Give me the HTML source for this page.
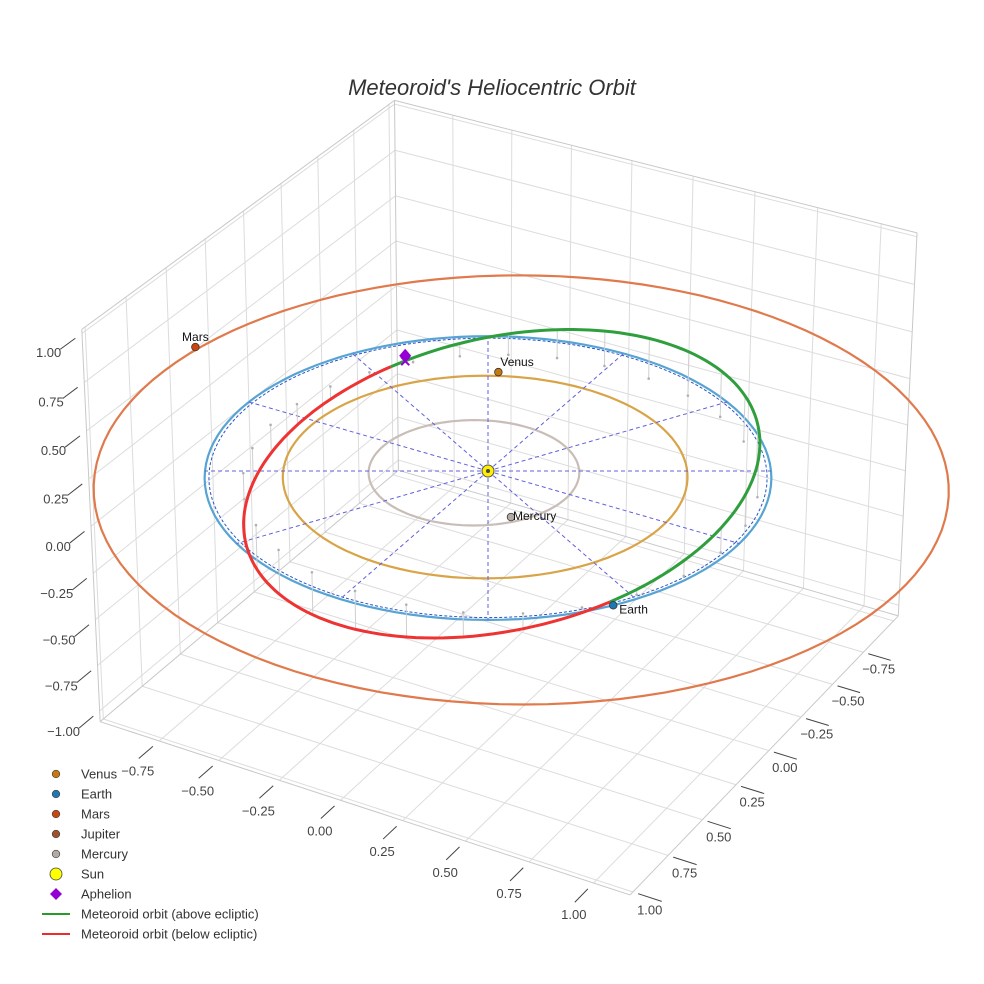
<!DOCTYPE html>
<html><head><meta charset="utf-8"><style>
html,body{margin:0;padding:0;background:#fff;}
svg{display:block;font-family:"Liberation Sans",sans-serif;}
</style></head><body>
<svg id="chart" width="984" height="984" viewBox="0 0 984 984" xmlns="http://www.w3.org/2000/svg">
<rect x="0" y="0" width="984" height="984" fill="#fff"/>
<text x="492" y="95" text-anchor="middle" font-size="22" font-style="italic" fill="#333">Meteoroid's Heliocentric Orbit</text>
<g id="scene"></g>
<g id="legend"></g>
</svg>
<script>
// ---- data ----
const xTicks = [-0.75,-0.5,-0.25,0,0.25,0.5,0.75,1.0];
const yTicks = [-0.75,-0.5,-0.25,0,0.25,0.5,0.75,1.0];
const zTicks = [-1.0,-0.75,-0.5,-0.25,0,0.25,0.5,0.75,1.0];
const gridVals = [-1.0,-0.75,-0.5,-0.25,0,0.25,0.5,0.75,1.0];
const xRange = [-1.0, 1.14];
const yRange = [-1.04, 1.02];
const zRange = [-1.06, 1.02];
const planetNames = ["Mercury","Venus","Earth","Mars"];
const orbitRadius = [0.372, 0.714, 1.0, 1.505];
const orbitCenterX = [-0.04, 0.0, 0.0, 0.111];
const orbitCenterY = [0.03, 0.02, 0.0, -0.041];
const planetAngle = [46, -117, 35, 188];
const planetDist = [0.33, 0.725, 1.0, 1.52];
// meteoroid orbit elements: semi-latus rectum, eccentricity, perihelion longitude, node, inclination
const orbitP = 0.905;
const orbitE = 0.075;
const orbitVarpi = 200;
const orbitNode = 35;
const orbitInc = 15;
const aphelionPoint = [-0.667, -0.547, 0.03];
const spokeAngles = [0,30,60,90,120,150,180,210,240,270,300,330];

// ---- projection ----
const NS="http://www.w3.org/2000/svg";
const A=30*Math.PI/180, E=30*Math.PI/180, D=17.4, S=283, CX=488, CY=471, K=0.76;
const R=[Math.cos(A),-Math.sin(A),0];
const N=[Math.cos(E)*Math.sin(A),Math.cos(E)*Math.cos(A),Math.sin(E)];
const U=[-Math.sin(E)*Math.sin(A),-Math.sin(E)*Math.cos(A),Math.cos(E)];
function proj(x,y,z){const w=[x,y,z*K];const d=(a)=>a[0]*w[0]+a[1]*w[1]+a[2]*w[2];
 const f=D/(D-d(N));return [CX+S*d(R)*f, CY-S*d(U)*f];}
const scene=document.getElementById('scene');
function mk(tag,attrs,parent){const e=document.createElementNS(NS,tag);for(const k in attrs)e.setAttribute(k,attrs[k]);(parent||scene).appendChild(e);return e;}
function poly(pts){return pts.map(p=>p[0].toFixed(1)+','+p[1].toFixed(1)).join(' ');}
function line3(a,b,stroke,w,name,dash){const p=proj(...a),q=proj(...b);
 const e=mk('line',{x1:p[0],y1:p[1],x2:q[0],y2:q[1],stroke:stroke,'stroke-width':w});
 if(dash)e.setAttribute('stroke-dasharray',dash);
 
 return e;}

const [x0,x1]=xRange,[y0,y1]=yRange,[z0,z1]=zRange;
// grids
gridVals.forEach(v=>{
 if(v>y0&&v<=y1){line3([x0,v,z0],[x0,v,z1],'#dcdcdc',1,'left-wall-grid');line3([x0,v,z0],[x1,v,z0],'#dcdcdc',1,'floor-grid-y');}
 if(v>x0&&v<=x1){line3([v,y0,z0],[v,y0,z1],'#dcdcdc',1,'right-wall-grid');line3([v,y0,z0],[v,y1,z0],'#dcdcdc',1,'floor-grid-x');}
 if(v>=z0&&v<=z1){line3([x0,y0,v],[x0,y1,v],'#dcdcdc',1,'left-wall-grid-z');line3([x0,y0,v],[x1,y0,v],'#dcdcdc',1,'right-wall-grid-z');}
});
// box edges
[[[x0,y1,z0],[x1,y1,z0]],[[x1,y1,z0],[x1,y0,z0]],[[x0,y0,z0],[x0,y1,z0]],[[x0,y0,z0],[x1,y0,z0]],
 [[x0,y1,z0],[x0,y1,z1]],[[x1,y0,z0],[x1,y0,z1]],[[x0,y0,z0],[x0,y0,z1]],
 [[x0,y1,z1],[x0,y0,z1]],[[x0,y0,z1],[x1,y0,z1]]].forEach(s=>line3(s[0],s[1],'#c8c8c8',1,'box-edge'));
// ticks
xTicks.forEach(v=>{line3([v,y1+0.04,z0],[v,y1+0.13,z0],'#444',1,'x-tick');
 const p=proj(v,y1+0.13,z0);const t=mk('text',{x:p[0]-1,y:p[1]+17,'text-anchor':'middle','font-size':13,fill:'#444'});
 t.textContent=(v<0?'\u2212':'')+Math.abs(v).toFixed(2);
 
 });
yTicks.forEach(v=>{line3([x1+0.02,v,z0],[x1+0.11,v,z0],'#444',1,'y-tick');
 const p=proj(x1+0.11,v,z0);const t=mk('text',{x:p[0]-12,y:p[1]+13,'text-anchor':'middle','font-size':13,fill:'#444'});
 t.textContent=(v<0?'\u2212':'')+Math.abs(v).toFixed(2);
 
 });
zTicks.forEach(v=>{line3([x0,y1+0.04,v],[x0,y1+0.13,v],'#444',1,'z-tick');
 const p=proj(x0,y1+0.13,v);const t=mk('text',{x:p[0]+1,y:p[1]+8,'text-anchor':'end','font-size':13,fill:'#444'});
 t.textContent=(v<0?'\u2212':'')+Math.abs(v).toFixed(2);
 
 });

// planet orbits
const orbitColors=['#c9bdb8','#d9a447','#57a3d3','#e07a4c'];
planetNames.forEach((nm,i)=>{const pts=[];for(let t=0;t<=360;t+=3){const r=t*Math.PI/180;
 pts.push(proj(orbitCenterX[i]+orbitRadius[i]*Math.cos(r),orbitCenterY[i]+orbitRadius[i]*Math.sin(r),0));}
 const e=mk('polyline',{points:poly(pts),fill:'none',stroke:orbitColors[i],'stroke-width':2.2});
 
 });
// reference dashed ring
{const pts=[];for(let t=0;t<=360;t+=3){const r=t*Math.PI/180;pts.push(proj(0.985*Math.cos(r),0.985*Math.sin(r),0));}
 const e=mk('polyline',{points:poly(pts),fill:'none',stroke:'#2a55c8','stroke-width':1,'stroke-dasharray':'3,2'});
 
 }
// spokes
spokeAngles.forEach(a=>{const r=a*Math.PI/180;line3([0,0,0],[Math.cos(r),Math.sin(r),0],'#6060dd',1,'ecliptic-spoke','4,3');});

// meteoroid orbit
function orb(th){const r=th*Math.PI/180;const rh=orbitP/(1+orbitE*Math.cos(r-orbitVarpi*Math.PI/180));
 const z=-Math.tan(orbitInc*Math.PI/180)*rh*Math.sin(r-orbitNode*Math.PI/180);
 return [rh*Math.cos(r),rh*Math.sin(r),z];}
// drop lines
for(let th=orbitNode+6;th<orbitNode+360;th+=12){const p=orb(th);
 line3(p,[p[0],p[1],0],'#cfcfcf',1,'drop-line');
 const q=proj(p[0],p[1],0);const c=mk('circle',{cx:q[0],cy:q[1],r:1.3,fill:'#b0b0b0'});
 
 }
{const g=[],rd=[];for(let th=orbitNode-180;th<=orbitNode;th+=2)g.push(proj(...orb(th)));
 for(let th=orbitNode;th<=orbitNode+180;th+=2)rd.push(proj(...orb(th)));
 const e1=mk('polyline',{points:poly(rd),fill:'none',stroke:'#ee3333','stroke-width':3});
 
 
 const e2=mk('polyline',{points:poly(g),fill:'none',stroke:'#2f9e3c','stroke-width':3});
 
 }

// sun
{const s=proj(0,0,0);const c=mk('circle',{cx:s[0],cy:s[1],r:6,fill:'#ffef00',stroke:'#555','stroke-width':1});
 
 
 const c2=mk('circle',{cx:s[0],cy:s[1],r:2,fill:'#445'});
 
 }
// planets
const pColors=['#b3aaa4','#c8780e','#1f78b4','#c9470f'];
planetNames.forEach((nm,i)=>{const r=planetAngle[i]*Math.PI/180;
 const cxw=(i===3?orbitCenterX[i]:0),cyw=(i===3?orbitCenterY[i]:0);
 const p=proj(cxw+planetDist[i]*Math.cos(r),cyw+planetDist[i]*Math.sin(r),0);
 const c=mk('circle',{cx:p[0],cy:p[1],r:3.8,fill:pColors[i],stroke:'#333','stroke-width':0.8});
 
 
 let tx=p[0]+2,ty=p[1]-6,anc='start';
 if(nm==='Mars'){tx=p[0];ty=p[1]-6;anc='middle';}
 if(nm==='Mercury'){tx=p[0]+2;ty=p[1]+3;}
 if(nm==='Earth'){tx=p[0]+6;ty=p[1]+8;}
 const t=mk('text',{x:tx,y:ty,'text-anchor':anc,'font-size':12,fill:'#111'});t.textContent=nm;
 
 });
// aphelion
{const p=proj(...aphelionPoint);const q=proj(aphelionPoint[0],aphelionPoint[1],0);
 const x=mk('path',{d:`M${q[0]-4},${q[1]-4}L${q[0]+4},${q[1]+4}M${q[0]+4},${q[1]-4}L${q[0]-4},${q[1]+4}`,stroke:'#9400d3','stroke-width':2});
 
 
 const d=mk('path',{d:`M${p[0]},${p[1]-7}L${p[0]+6},${p[1]}L${p[0]},${p[1]+7}L${p[0]-6},${p[1]}Z`,fill:'#9400d3'});
 
 }

// legend
const legendLabels=["Venus","Earth","Mars","Jupiter","Mercury","Sun","Aphelion","Meteoroid orbit (above ecliptic)","Meteoroid orbit (below ecliptic)"];
const legendColors=['#c8780e','#1f78b4','#c9470f','#a0522d','#b3aaa4','#ffff00','#9400d3','#2a9a2a','#ee2a2a'];
const lg=document.getElementById('legend');
legendLabels.forEach((lb,i)=>{const y=774+i*20;const g=mk('g',{},lg);
 
 
 let m;
 if(i<5)m=mk('circle',{cx:56,cy:y,r:3.8,fill:legendColors[i],stroke:'#444','stroke-width':0.7},g);
 else if(i===5)m=mk('circle',{cx:56,cy:y,r:6,fill:legendColors[i],stroke:'#444','stroke-width':0.8},g);
 else if(i===6)m=mk('path',{d:`M56,${y-6}L62,${y}L56,${y+6}L50,${y}Z`,fill:legendColors[i]},g);
 else m=mk('line',{x1:42,y1:y,x2:70,y2:y,stroke:legendColors[i],'stroke-width':2},g);
 
 
 const t=mk('text',{x:81,y:y+4.5,'font-size':13,fill:'#333'},g);t.textContent=lb;
 
 });
</script>
</body></html>
